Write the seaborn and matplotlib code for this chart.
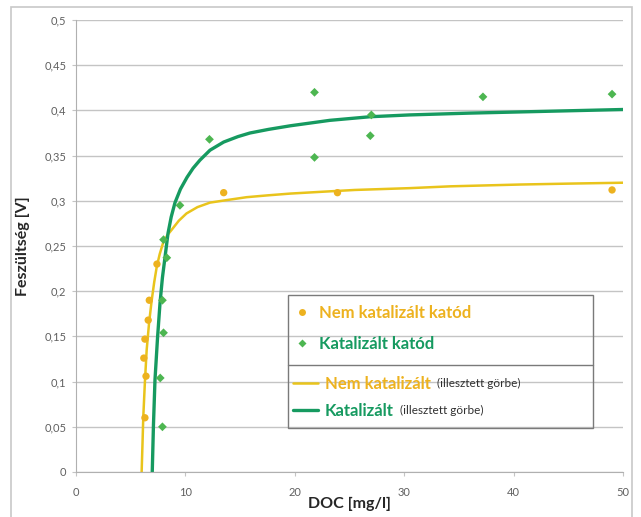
import matplotlib.pyplot as plt
import matplotlib.ticker as ticker
from matplotlib.lines import Line2D
from matplotlib.patches import Rectangle
import numpy as np
import pandas as pd
import seaborn as sns

# measured points, non-catalysed cathode
nk_doc = [6.3, 6.4, 6.2, 6.3, 6.6, 6.7, 7.4, 13.5, 23.9, 49.0]
nk_volt = [0.060, 0.106, 0.126, 0.147, 0.168, 0.190, 0.230, 0.309, 0.309, 0.312]

# measured points, catalysed cathode
k_doc = [7.9, 7.7, 8.0, 7.9, 8.3, 8.0, 9.5, 12.2, 21.8, 21.8, 26.9, 27.0, 37.2, 49.0]
k_volt = [0.050, 0.104, 0.154, 0.190, 0.237, 0.257, 0.295, 0.368, 0.420, 0.348,
          0.372, 0.395, 0.415, 0.418]

# fitted curves
nk_fit_doc = [6.0, 6.08, 6.15, 6.3, 6.46, 6.68, 6.92, 7.15, 7.38, 7.65, 7.95, 8.35,
              8.75, 9.4, 10.1, 11.1, 12.25, 13.9, 15.6, 17.5, 19.6, 22.5, 25.5,
              30.5, 34.2, 40.6, 45.0, 50.0]
nk_fit_volt = [0.0, 0.032, 0.061, 0.100, 0.135, 0.165, 0.190, 0.210, 0.227, 0.241,
               0.253, 0.262, 0.268, 0.278, 0.286, 0.293, 0.298, 0.301, 0.304, 0.306,
               0.308, 0.310, 0.312, 0.314, 0.316, 0.318, 0.319, 0.320]
k_fit_doc = [6.97, 7.08, 7.22, 7.45, 7.68, 7.9, 8.14, 8.41, 8.7, 9.05, 9.55, 10.15,
             10.7, 11.33, 12.25, 13.5, 14.8, 15.9, 17.6, 19.6, 23.2, 26.9, 30.5,
             36.0, 43.0, 50.0]
k_fit_volt = [0.0, 0.052, 0.102, 0.148, 0.187, 0.215, 0.238, 0.264, 0.282, 0.298,
              0.313, 0.326, 0.336, 0.345, 0.356, 0.365, 0.371, 0.375, 0.379, 0.383,
              0.389, 0.393, 0.395, 0.397, 0.399, 0.401]

x_ticks = [0, 10, 20, 30, 40, 50]
x_tick_labels = ['0', '10', '20', '30', '40', '50']
y_ticks = [0, 0.05, 0.1, 0.15, 0.2, 0.25, 0.3, 0.35, 0.4, 0.45, 0.5]
y_tick_labels = ['0', '0,05', '0,1', '0,15', '0,2', '0,25', '0,3', '0,35', '0,4', '0,45', '0,5']

YELLOW = '#EDB21F'
YELLOW_LINE = '#E9C41C'
GREEN = '#4DB651'
GREEN_LINE = '#169A60'
GRID = '#c4c4c4'

sns.set_style('white')
plt.rcParams['font.family'] = ['Lato', 'DejaVu Sans']

fig = plt.figure(figsize=(6.41, 5.17), dpi=100)
ax = fig.add_axes([76 / 641, 45 / 517, 547 / 641, 452 / 517])

sns.lineplot(x=nk_fit_doc, y=nk_fit_volt, ax=ax, color=YELLOW_LINE, lw=1.8,
             estimator=None, sort=False, zorder=2)
sns.lineplot(x=k_fit_doc, y=k_fit_volt, ax=ax, color=GREEN_LINE, lw=2.4,
             estimator=None, sort=False, zorder=2)
for ln in ax.lines:
    ln.set_solid_joinstyle('round')
sns.scatterplot(x=nk_doc, y=nk_volt, ax=ax, color=YELLOW, marker='o', s=28,
                edgecolor='none', zorder=3)
sns.scatterplot(x=k_doc, y=k_volt, ax=ax, color=GREEN, marker='D', s=20,
                edgecolor='none', zorder=3)

ax.set_xlim(0, 50)
ax.set_ylim(0, 0.5)
ax.set_xticks(x_ticks)
ax.set_xticklabels(x_tick_labels)
ax.set_yticks(y_ticks)
ax.set_yticklabels(y_tick_labels)
ax.yaxis.grid(True, color=GRID, lw=1)
ax.set_axisbelow(True)
for side in ['top', 'right']:
    ax.spines[side].set_visible(False)
for side in ['left', 'bottom']:
    ax.spines[side].set_color('#b0b0b0')
ax.tick_params(axis='y', left=True, length=3, color=GRID, labelsize=8,
               labelcolor='#606060', pad=4)
ax.tick_params(axis='x', bottom=True, length=3, color=GRID, labelsize=8,
               labelcolor='#606060', pad=8)
ax.set_xlabel('DOC [mg/l]', fontsize=11.5, fontweight='bold', labelpad=-1)
ax.set_ylabel('Feszültség [V]', fontsize=11.5, fontweight='bold', labelpad=10)

# legend box with divider
ax.add_patch(Rectangle((0.388, 0.097), 0.557, 0.295, transform=ax.transAxes,
                       fill=False, edgecolor='#7a7a7a', lw=1, zorder=5))
ax.plot([0.388, 0.945], [0.237, 0.237], transform=ax.transAxes,
        color='#7a7a7a', lw=1, zorder=5)

pt_handles = [
    Line2D([], [], ls='none', marker='o', ms=5, color=YELLOW, mec='none'),
    Line2D([], [], ls='none', marker='D', ms=4, color=GREEN, mec='none'),
]
leg1 = ax.legend(pt_handles, ['Nem katalizált katód', 'Katalizált katód'],
                 loc='center left', bbox_to_anchor=(0.380, 0.317), frameon=False,
                 prop={'size': 12, 'weight': 'bold'}, handlelength=0.8,
                 handletextpad=0.6, labelspacing=0.9, borderpad=0.2)
leg1.get_texts()[0].set_color(YELLOW)
leg1.get_texts()[1].set_color(GREEN_LINE)
ax.add_artist(leg1)

ln_handles = [
    Line2D([], [], color=YELLOW_LINE, lw=1.8),
    Line2D([], [], color=GREEN_LINE, lw=2.4),
]
leg2 = ax.legend(ln_handles, ['Nem katalizált', 'Katalizált'],
                 loc='center left', bbox_to_anchor=(0.376, 0.165), frameon=False,
                 prop={'size': 12, 'weight': 'bold'}, handlelength=1.5,
                 handletextpad=0.4, labelspacing=0.65, borderpad=0.2)
leg2.get_texts()[0].set_color(YELLOW)
leg2.get_texts()[1].set_color(GREEN_LINE)

# add the small black suffix after each fitted-curve label
fig.canvas.draw()
inv = ax.transAxes.inverted()
for t in leg2.get_texts():
    bb = t.get_window_extent()
    x0, y0 = inv.transform((bb.x1 + 6, bb.y0 + 3))
    ax.text(x0, y0, '(illesztett görbe)', transform=ax.transAxes, fontsize=8.5,
            color='#303030', va='bottom', ha='left', zorder=6)

# chart area border
fig.patches.append(Rectangle((11 / 641, -0.01), 621 / 641, 1.01 - 7 / 517,
                             transform=fig.transFigure, fill=False,
                             edgecolor='#c8c8c8', lw=1.2))

fig.savefig('out.png', dpi=100)
